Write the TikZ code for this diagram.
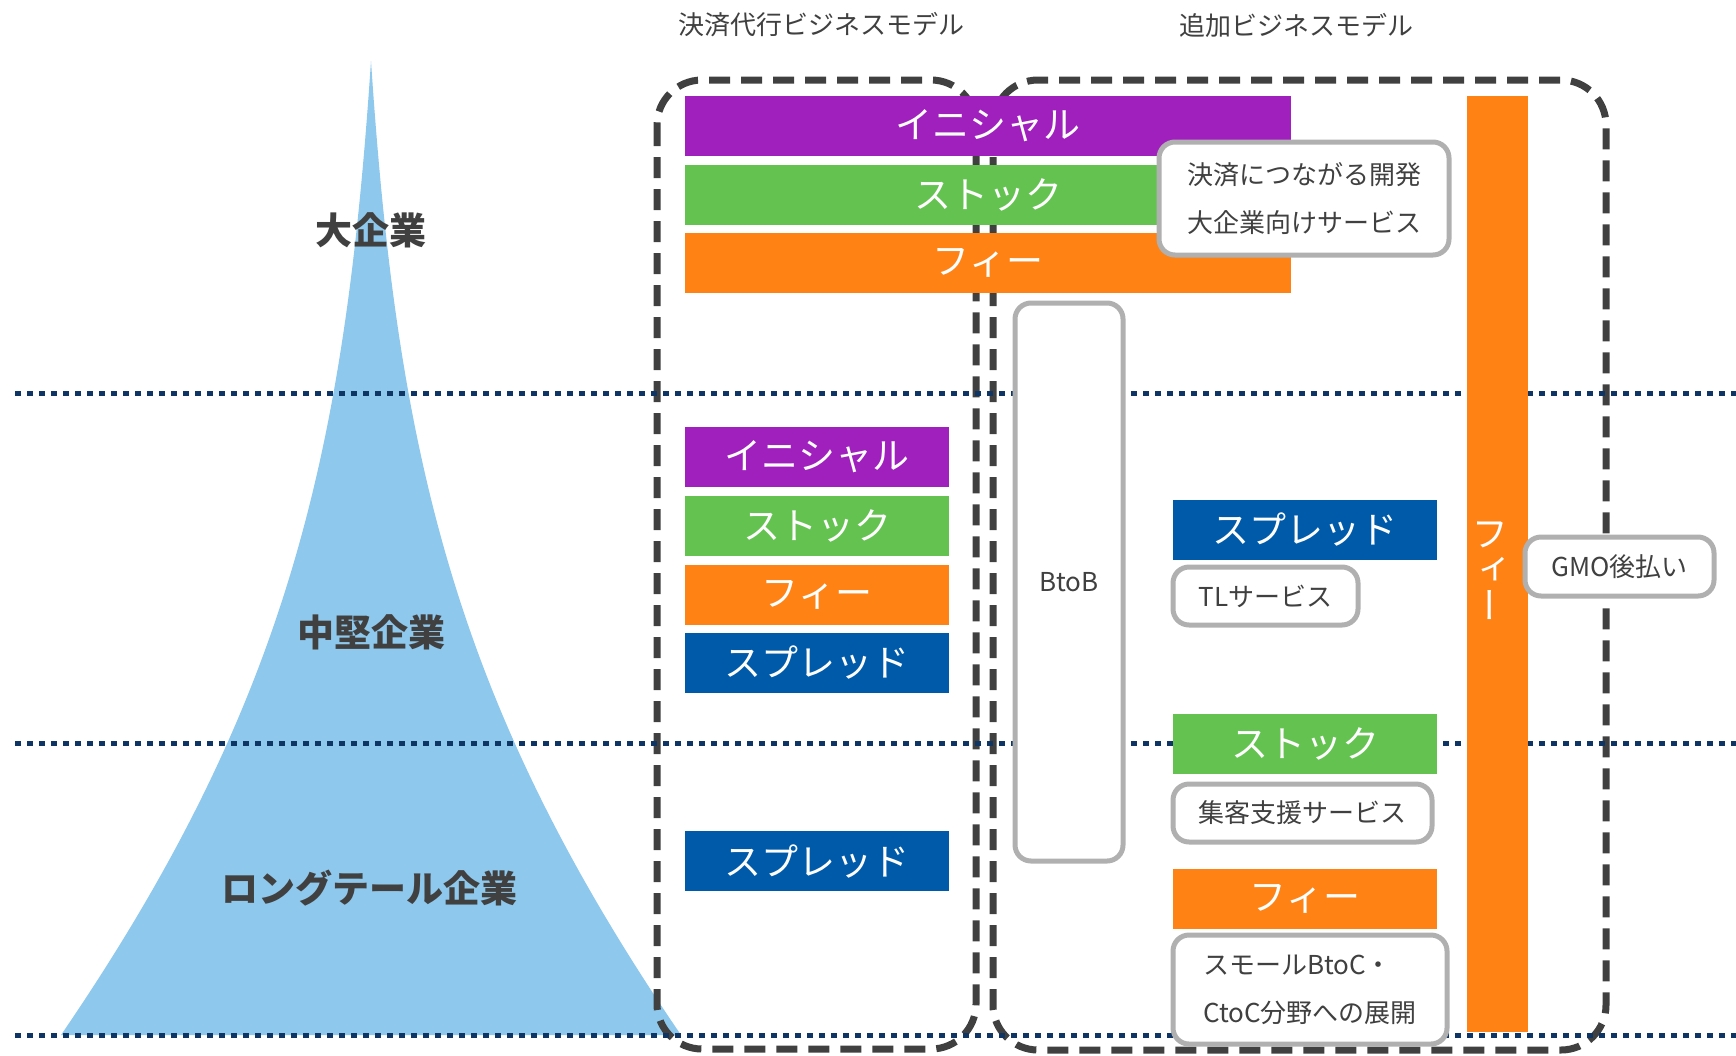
\documentclass[tikz,border=0pt]{standalone}
\usepackage{fontspec}
\setmainfont{Noto Sans CJK JP}
\newfontfamily\vertjp[RawFeature=+vert]{Noto Sans CJK JP}
\usepackage{tikz}

\definecolor{inipurple}{HTML}{A020BE}
\definecolor{stockgreen}{HTML}{64C350}
\definecolor{feeorange}{HTML}{FF8214}
\definecolor{spreadblue}{HTML}{005AAA}
\definecolor{triblue}{HTML}{8EC8EC}
\definecolor{tierline}{HTML}{0F3564}
\definecolor{framegray}{HTML}{404040}
\definecolor{boxgray}{HTML}{B0B0B0}

\begin{document}
\begin{tikzpicture}
[x=1pt,y=-1pt,
  bar/.style={fill=#1,text=white,inner sep=0,minimum height=60,font=\fontsize{37}{37}\selectfont},
  svc/.style={draw=boxgray,line width=5,rounded corners=16,fill=white,text=framegray,inner sep=0,align=center,font=\fontsize{26}{48}\selectfont},
  title/.style={text=framegray,font=\fontsize{26}{30}\selectfont},
  tier/.style={text=framegray,font=\fontsize{37}{40}\selectfont\bfseries},
  dashframe/.style={draw=framegray,line width=7,rounded corners=45,dash pattern=on 21pt off 11pt},
  tierdots/.style={draw=tierline,line width=5,dash pattern=on 6pt off 6pt}]
  \useasboundingbox (0,0) rectangle (1736,1055);
  \fill[triblue] (371,61) .. controls (345,450) and (290,700) .. (61,1035)
    -- (681,1035) .. controls (452,700) and (397,450) .. (371,61) -- cycle;
  \draw[dashframe] (657,80) rectangle (976,1049);
  \draw[dashframe] (993,80) rectangle (1606,1050);
  \foreach \y in {393,743,1035}
    \draw[tierdots] (15,\y) -- (1736,\y);
  \node[title] (payt) at (821,25) {決済代行ビジネスモデル};
  \node[title] (addt) at (1296,25) {追加ビジネスモデル};
  \node[tier] (large) at (371,230) {大企業};
  \node[tier] (mid) at (371,632) {中堅企業};
  \node[tier] (tail) at (369,888) {ロングテール企業};
  \node[bar=inipurple,minimum width=606] (ini1) at (988,126) {イニシャル};
  \node[bar=stockgreen,minimum width=606] (sto1) at (988,194.5) {ストック};
  \node[bar=feeorange,minimum width=606] (fee1) at (988,262.5) {フィー};
  \node[bar=inipurple,minimum width=264] (ini2) at (817,457) {イニシャル};
  \node[bar=stockgreen,minimum width=264] (sto2) at (817,526) {ストック};
  \node[bar=feeorange,minimum width=264] (fee2) at (817,595) {フィー};
  \node[bar=spreadblue,minimum width=264] (spr2) at (817,663) {スプレッド};
  \node[bar=spreadblue,minimum width=264] (spr3) at (817,861) {スプレッド};
  \node[bar=spreadblue,minimum width=264] (spr4) at (1305,530) {スプレッド};
  \node[bar=stockgreen,minimum width=264] (sto4) at (1305,744) {ストック};
  \node[bar=feeorange,minimum width=264] (fee4) at (1305,899) {フィー};
  \node[bar=feeorange,minimum width=61,minimum height=936] (fee5) at (1497.5,564) {};
  \node[text=white,inner sep=0,align=center,font=\vertjp\fontsize{37}{36}\selectfont] (fee5text) at (1490,571)
    {フ\\ィ\\ー};
  \node[svc,minimum width=290,minimum height=113] (dev) at (1304,198.5) {決済につながる開発\\大企業向けサービス};
  \node[svc,minimum width=108,minimum height=558] (btob) at (1069,582) {BtoB};
  \node[svc,minimum width=185,minimum height=58] (tl) at (1265.5,596) {TLサービス};
  \node[svc,minimum width=259,minimum height=58] (shu) at (1302.5,813) {集客支援サービス};
  \node[svc,minimum width=274,minimum height=109,align=left] (sml) at (1310,989.5) {スモールBtoC・\\CtoC分野への展開};
  \node[svc,minimum width=189,minimum height=59] (gmo) at (1619.5,566.5) {GMO後払い};
\end{tikzpicture}
\end{document}
